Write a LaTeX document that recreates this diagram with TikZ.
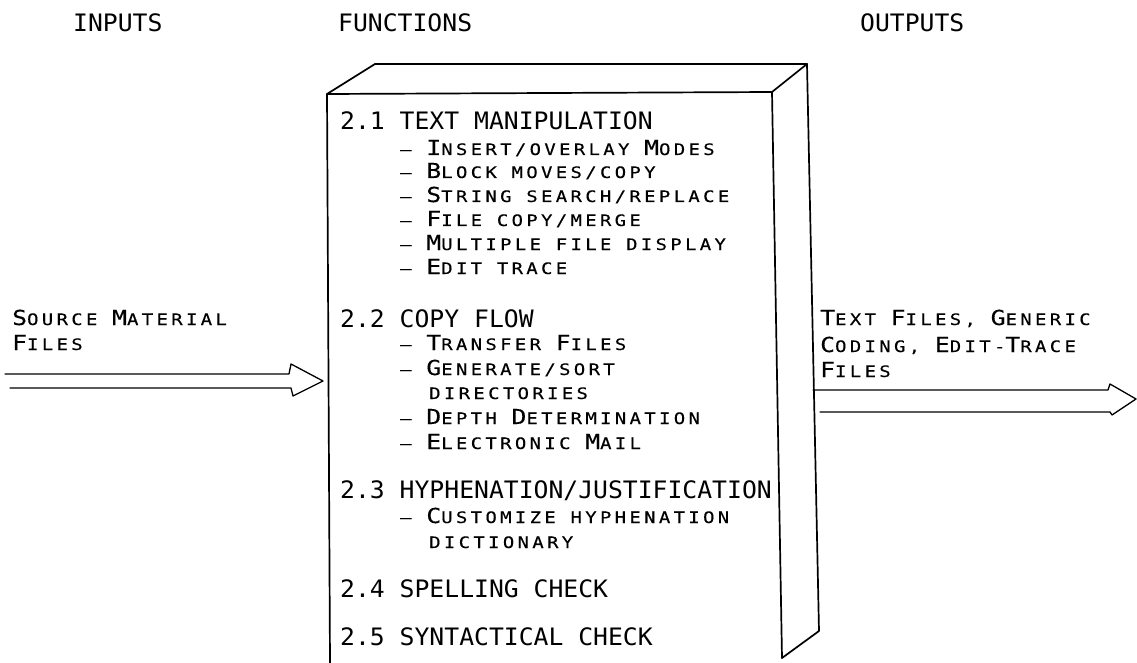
\documentclass[tikz,border=0pt]{standalone}
\usepackage{fontspec}
\newfontfamily\hdfont[FakeStretch=1.03]{DejaVu Sans Mono}
\newfontfamily\scfont[FakeStretch=1.2,LetterSpace=21,FakeBold=0.3]{DejaVu Sans Mono}
% large initial letter inside a small-caps line
\newcommand\bigc[1]{{\fontsize{20.6bp}{22bp}\selectfont #1}}
\tikzset{
  hd/.style={anchor=base west, inner sep=0pt, font=\hdfont\fontsize{24bp}{26bp}\selectfont},
  sc/.style={anchor=base west, inner sep=0pt, font=\scfont\fontsize{15.8bp}{17bp}\selectfont},
  edge/.style={line width=1.7bp, line join=round, line cap=round},
  pipe/.style={line width=1.3bp, line join=round, line cap=round},
}
\begin{document}
\begin{tikzpicture}[x=1bp, y=-1bp]
\useasboundingbox (0,0) rectangle (1137,663);

% column titles
\node[hd] (tin)  at (73,32)  {INPUTS};
\node[hd] (tfun) at (338,32) {FUNCTIONS};
\node[hd] (tout) at (860,32) {OUTPUTS};

% the functions block, drawn as a box in perspective
\coordinate (ftl) at (327,94);
\coordinate (ftr) at (772,92);
\coordinate (fbr) at (782,658);
\coordinate (fbl) at (330,663);
\coordinate (btl) at (375,64);
\coordinate (btr) at (807,64);
\coordinate (bbr) at (819,631);
\draw[edge] (fbl) -- (ftl) -- (ftr) -- (fbr);
\draw[edge] (ftl) -- (btl) -- (btr) -- (ftr);
\draw[edge] (btr) -- (bbr) -- (fbr);

% section 2.1
\node[hd] (s21) at (340,130) {2.1 TEXT MANIPULATION};
\node[sc] (a1) at (400,155) {– \bigc{I}NSERT/OVERLAY \bigc{M}ODES};
\node[sc] (a2) at (400,178) {– \bigc{B}LOCK MOVES/COPY};
\node[sc] (a3) at (400,202) {– \bigc{S}TRING SEARCH/REPLACE};
\node[sc] (a4) at (400,226) {– \bigc{F}ILE COPY/MERGE};
\node[sc] (a5) at (400,250) {– \bigc{M}ULTIPLE FILE DISPLAY};
\node[sc] (a6) at (400,274) {– \bigc{E}DIT TRACE};

% section 2.2
\node[hd] (s22) at (340,327) {2.2 COPY FLOW};
\node[sc] (b1) at (400,350) {– \bigc{T}RANSFER \bigc{F}ILES};
\node[sc] (b2) at (400,375) {– \bigc{G}ENERATE/SORT};
\node[sc] (b2b) at (429,399) {DIRECTORIES};
\node[sc] (b3) at (400,424) {– \bigc{D}EPTH \bigc{D}ETERMINATION};
\node[sc] (b4) at (400,449) {– \bigc{E}LECTRONIC \bigc{M}AIL};

% section 2.3
\node[hd] (s23) at (340,498) {2.3 HYPHENATION/JUSTIFICATION};
\node[sc] (c1) at (400,523) {– \bigc{C}USTOMIZE HYPHENATION};
\node[sc] (c1b) at (429,548) {DICTIONARY};

% sections 2.4 and 2.5
\node[hd] (s24) at (340,597) {2.4 SPELLING CHECK};
\node[hd] (s25) at (340,645) {2.5 SYNTACTICAL CHECK};

% input side
\node[sc] (in1) at (12,325) {\bigc{S}OURCE \bigc{M}ATERIAL};
\node[sc] (in2) at (12,350) {\bigc{F}ILES};
\coordinate (intip) at (323,381);
\draw[pipe] (5,374) -- (289,374) -- (291,364) -- (intip) -- (293,396) -- (291,388) -- (10,388);

% output side
\node[sc] (out1) at (820,325) {\bigc{T}EXT \bigc{F}ILES, \bigc{G}ENERIC};
\node[sc] (out2) at (820,352) {\bigc{C}ODING, \bigc{E}DIT-\bigc{T}RACE};
\node[sc] (out3) at (820,377) {\bigc{F}ILES};
\coordinate (outtip) at (1136,399);
\draw[pipe] (813,390) -- (1108,390) -- (1110,384) -- (outtip) -- (1112,415) -- (1110,412) -- (820,412);
\end{tikzpicture}
\end{document}
